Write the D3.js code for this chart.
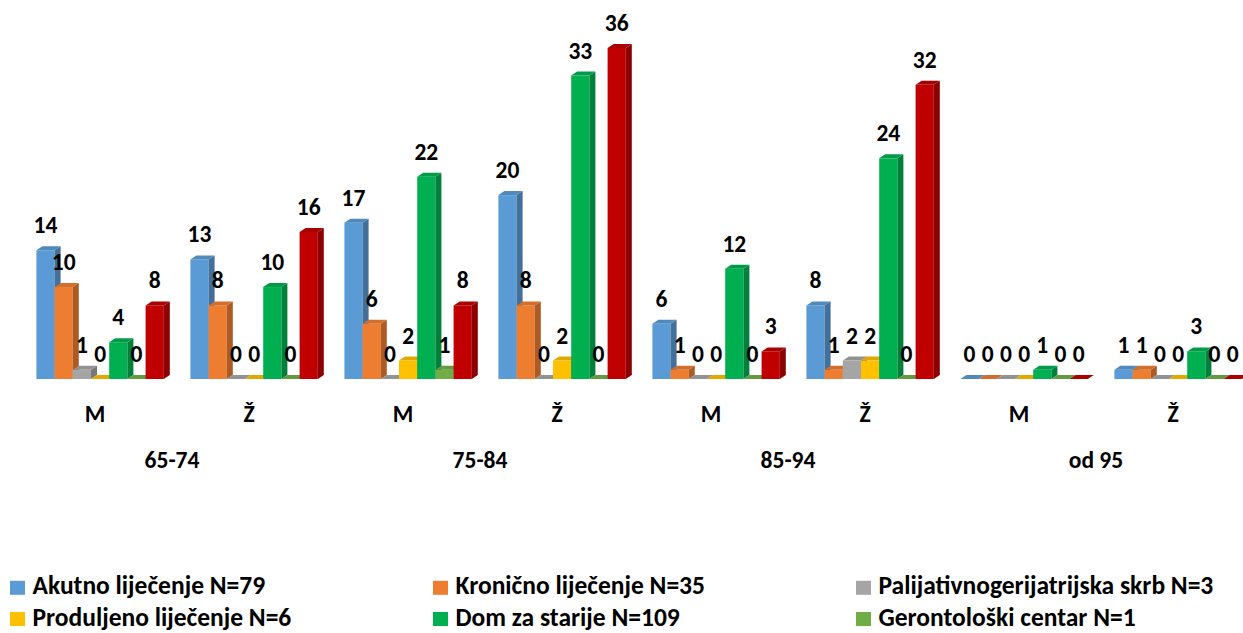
<!DOCTYPE html>
<html>
<head>
<meta charset="utf-8">
<script src="https://cdn.jsdelivr.net/npm/d3@7"></script>
<style>
  html, body { margin: 0; padding: 0; background: #fff; }
  svg { display: block; }
  text { font-family: "Carlito", "Lato", sans-serif; font-weight: bold; fill: #000; }
</style>
</head>
<body>
<svg id="chart" width="1243" height="633"></svg>
<script>
// Sex within each age band (inner category axis)
const sexLabels = ["M", "Ž", "M", "Ž", "M", "Ž", "M", "Ž"];
// Age bands (outer category axis), each spanning two sex columns
const ageLabels = ["65-74", "75-84", "85-94", "od 95"];

// Series names as shown in the legend
const seriesNames = [
  "Akutno liječenje N=79",
  "Kronično liječenje N=35",
  "Palijativnogerijatrijska skrb N=3",
  "Produljeno liječenje N=6",
  "Dom za starije N=109",
  "Gerontološki centar N=1",
  "Obitelj N=103"
];
const seriesColors = ["#5B9BD5", "#ED7D31", "#A5A5A5", "#FFC000", "#00B050", "#70AD47", "#C00000"];

// Counts per column (M/Ž for each age band)
const akutno       = [14, 13, 17, 20, 6, 8, 0, 1];
const kronicno     = [10, 8, 6, 8, 1, 1, 0, 1];
const palijativno  = [1, 0, 0, 0, 0, 2, 0, 0];
const produljeno   = [0, 0, 2, 2, 0, 2, 0, 0];
const domZaStarije = [4, 10, 22, 33, 12, 24, 1, 3];
const gerontoloski = [0, 0, 1, 0, 0, 0, 0, 0];
const obitelj      = [8, 16, 8, 36, 3, 32, 0, 0];

const seriesValues = [akutno, kronicno, palijativno, produljeno, domZaStarije, gerontoloski, obitelj];

const svg = d3.select("#chart");

// 3D extrusion offsets
const dx = 6, dy = 4;

const x0 = d3.scaleBand().domain(d3.range(sexLabels.length)).range([18, 1250]).padding(0);
const x1 = d3.scaleBand().domain(d3.range(seriesNames.length)).range([18.4, 145.8]).padding(0);
const y = d3.scaleLinear().domain([0, 36]).range([379, 48]);

const w = x1.bandwidth();
const base = y(0);

const bars = svg.append("g").attr("class", "bars");

sexLabels.forEach((_, gi) => {
  const g = bars.append("g").attr("transform", `translate(${x0(gi)},0)`);
  seriesValues.forEach((vals, si) => {
    const v = vals[gi];
    const c = d3.color(seriesColors[si]);
    const front = c.formatHex();
    const top = c.darker(0.35).formatHex();
    const side = c.darker(0.9).formatHex();
    const x = x1(si);
    const yt = y(v);
    const bar = g.append("g");
    // front face
    bar.append("rect")
      .attr("x", x).attr("y", yt)
      .attr("width", w).attr("height", base - yt)
      .attr("fill", front);
    // right side face
    bar.append("path")
      .attr("d", `M${x + w},${yt} L${x + w + dx},${yt - dy} L${x + w + dx},${base - dy} L${x + w},${base} Z`)
      .attr("fill", side);
    // top face
    bar.append("path")
      .attr("d", `M${x},${yt} L${x + dx},${yt - dy} L${x + w + dx},${yt - dy} L${x + w},${yt} Z`)
      .attr("fill", top);
  });
  // value labels
  seriesValues.forEach((vals, si) => {
    const v = vals[gi];
    g.append("text")
      .attr("x", x1(si) + w / 2)
      .attr("y", y(v) - 17)
      .attr("text-anchor", "middle")
      .attr("font-size", 23.5)
      .text(v);
  });
});

// inner category labels
svg.append("g").selectAll("text")
  .data(sexLabels)
  .join("text")
  .attr("x", (d, i) => x0(i) + x0.bandwidth() / 2)
  .attr("y", 422)
  .attr("text-anchor", "middle")
  .attr("font-size", 23.5)
  .text(d => d);

// outer category labels
svg.append("g").selectAll("text")
  .data(ageLabels)
  .join("text")
  .attr("x", (d, i) => x0(i * 2) + x0.bandwidth())
  .attr("y", 468)
  .attr("text-anchor", "middle")
  .attr("font-size", 23.5)
  .text(d => d);

// legend: three columns, rows wrap
const legendColX = [10, 433, 856];
const legendRowY = [594.3, 625.5, 656.7];
const legend = svg.append("g").attr("class", "legend");
seriesNames.forEach((name, i) => {
  const lx = legendColX[i % 3];
  const ly = legendRowY[Math.floor(i / 3)];
  legend.append("rect")
    .attr("x", lx).attr("y", ly - 13.5)
    .attr("width", 15).attr("height", 14)
    .attr("fill", seriesColors[i]);
  legend.append("text")
    .attr("x", lx + 22.5)
    .attr("y", ly)
    .attr("font-size", 25.5)
    .text(name);
});
</script>
</body>
</html>
